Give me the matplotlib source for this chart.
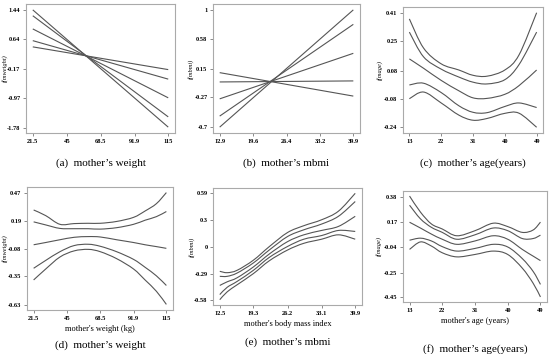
import matplotlib
matplotlib.use("Agg")
import matplotlib.pyplot as plt
from matplotlib.path import Path
from matplotlib.patches import PathPatch

W, H = 550, 354

# ---------------- data ----------------
# (a) linear effects of mother's weight (endpoints at 21.5 and 115)
a_x = [21.5, 115]
a_lines = [[1.44, -1.76], [1.28, -1.48], [0.92, -0.96], [0.60, -0.45], [0.43, -0.19]]
a_xticks = [21.5, 45, 68.5, 91.9, 115]
a_yticks = [-1.78, -0.97, -0.17, 0.64, 1.44]

# (b) linear effects of mbmi (endpoints at 12.9 and 39.9)
b_x = [12.9, 39.9]
b_lines = [[-0.70, 1.00], [-0.54, 0.79], [-0.29, 0.37], [-0.045, -0.03], [0.09, -0.25]]
b_xticks = [12.9, 19.6, 26.4, 33.2, 39.9]
b_yticks = [-0.7, -0.27, 0.15, 0.58, 1]

# (c) mother's age
c_x = [13, 17, 22, 27, 31, 35, 40, 44, 49]
c_lines = [
    [0.375, 0.21, 0.12, 0.085, 0.055, 0.05, 0.085, 0.17, 0.41],
    [0.30, 0.16, 0.09, 0.045, 0.016, 0.006, 0.03, 0.115, 0.30],
    [0.148, 0.095, 0.026, -0.033, -0.073, -0.076, -0.053, -0.004, 0.085],
    [0.0, 0.01, -0.043, -0.118, -0.155, -0.157, -0.122, -0.102, -0.128],
    [-0.078, -0.04, -0.102, -0.171, -0.20, -0.19, -0.161, -0.16, -0.24],
]
c_xticks = [13, 22, 31, 40, 49]
c_yticks = [-0.24, -0.08, 0.08, 0.25, 0.41]

# (d) mother's weight
d_x = [21.5, 30, 40, 50, 60, 68.5, 80, 91.9, 100, 108, 115]
d_lines = [
    [0.30, 0.245, 0.16, 0.167, 0.17, 0.17, 0.188, 0.228, 0.29, 0.362, 0.47],
    [0.184, 0.154, 0.12, 0.117, 0.117, 0.113, 0.127, 0.16, 0.20, 0.235, 0.285],
    [-0.04, -0.018, 0.009, 0.033, 0.04, 0.036, 0.009, -0.018, -0.04, -0.058, -0.075],
    [-0.27, -0.193, -0.108, -0.048, -0.035, -0.055, -0.108, -0.183, -0.26, -0.344, -0.438],
    [-0.384, -0.277, -0.16, -0.10, -0.085, -0.108, -0.176, -0.277, -0.384, -0.495, -0.623],
]
d_xticks = [21.5, 45, 68.5, 91.9, 115]
d_yticks = [-0.63, -0.35, -0.08, 0.19, 0.47]

# (e) mother's body mass index
e_x = [12.5, 14, 16, 19.3, 22.5, 26.2, 29.5, 33.1, 36.5, 39.9]
e_lines = [
    [-0.265, -0.28, -0.254, -0.143, 0.005, 0.16, 0.235, 0.30, 0.394, 0.59],
    [-0.32, -0.32, -0.284, -0.173, -0.032, 0.116, 0.19, 0.253, 0.338, 0.50],
    [-0.42, -0.38, -0.336, -0.217, -0.076, 0.06, 0.135, 0.183, 0.227, 0.338],
    [-0.52, -0.44, -0.376, -0.254, -0.113, 0.007, 0.087, 0.127, 0.183, 0.172],
    [-0.576, -0.49, -0.413, -0.29, -0.15, -0.032, 0.042, 0.087, 0.135, 0.087],
]
e_xticks = [12.5, 19.3, 26.2, 33.1, 39.9]
e_yticks = [-0.58, -0.29, 0, 0.3, 0.59]

# (f) mother's age (years)
f_x = [13, 16, 19, 22, 26, 31, 36, 40, 44, 47, 49]
f_lines = [
    [0.386, 0.253, 0.155, 0.113, 0.057, 0.099, 0.161, 0.133, 0.085, 0.105, 0.17],
    [0.31, 0.197, 0.127, 0.085, 0.028, 0.065, 0.121, 0.099, 0.034, 0.034, 0.062],
    [0.169, 0.121, 0.071, 0.028, -0.014, 0.014, 0.057, 0.028, -0.056, -0.112, -0.149],
    [0.02, 0.037, 0.014, -0.033, -0.07, -0.048, -0.014, -0.036, -0.132, -0.239, -0.346],
    [-0.056, 0.006, -0.028, -0.084, -0.118, -0.098, -0.07, -0.098, -0.211, -0.337, -0.45],
]
f_xticks = [13, 22, 31, 40, 49]
f_yticks = [-0.45, -0.25, -0.04, 0.17, 0.38]

panels = [
    dict(box=(26, 175, 4, 133), x=a_x, lines=a_lines, xt=a_xticks, yt=a_yticks,
         ylab="f(mweight)", ylx=4.5, xlab=None, cap="(a)  mother\u2019s weight", cy=163),
    dict(box=(213, 360, 4, 133), x=b_x, lines=b_lines, xt=b_xticks, yt=b_yticks,
         ylab="f(mbmi)", ylx=191, xlab=None, cap="(b)  mother\u2019s mbmi", cy=163),
    dict(box=(403, 543, 7, 133), x=c_x, lines=c_lines, xt=c_xticks, yt=c_yticks,
         ylab="f(mage)", ylx=380, xlab=None, cap="(c)  mother\u2019s age(years)", cy=163),
    dict(box=(27, 173, 187, 310), x=d_x, lines=d_lines, xt=d_xticks, yt=d_yticks,
         ylab="f(mweight)", ylx=4.5, xlab="mother's weight (kg)", cap="(d)  mother\u2019s weight", cy=345),
    dict(box=(213, 362, 188, 305), x=e_x, lines=e_lines, xt=e_xticks, yt=e_yticks,
         ylab="f(mbmi)", ylx=192, xlab="mother's body mass index", cap="(e)  mother\u2019s mbmi", cy=342),
    dict(box=(403, 547, 191, 302), x=f_x, lines=f_lines, xt=f_xticks, yt=f_yticks,
         ylab="f(mage)", ylx=379, xlab="mother's age (years)", cap="(f)  mother\u2019s age(years)", cy=349),
]

fig = plt.figure(figsize=(W / 100, H / 100), dpi=100)
serif = ["Liberation Serif", "DejaVu Serif"]


def smooth_path(xs, ys):
    """Catmull-Rom curve through the read points, drawn as cubic Bezier segments."""
    n = len(xs)
    verts = [(xs[0], ys[0])]
    codes = [Path.MOVETO]
    if n == 2:
        verts.append((xs[1], ys[1]))
        codes.append(Path.LINETO)
        return Path(verts, codes)
    for i in range(n - 1):
        x0, y0 = (xs[i - 1], ys[i - 1]) if i > 0 else (xs[i], ys[i])
        x1, y1 = xs[i], ys[i]
        x2, y2 = xs[i + 1], ys[i + 1]
        x3, y3 = (xs[i + 2], ys[i + 2]) if i + 2 < n else (x2, y2)
        c1 = (x1 + (x2 - x0) / 6.0, y1 + (y2 - y0) / 6.0)
        c2 = (x2 - (x3 - x1) / 6.0, y2 - (y3 - y1) / 6.0)
        verts += [c1, c2, (x2, y2)]
        codes += [Path.CURVE4] * 3
    return Path(verts, codes)


for p in panels:
    l, r, t, b = p["box"]
    ax = fig.add_axes([l / W, 1 - b / H, (r - l) / W, (b - t) / H])
    for ys in p["lines"]:
        # invisible line to register data limits, smooth patch for the visible curve
        ax.plot(p["x"], ys, alpha=0)
        ax.add_patch(PathPatch(smooth_path(p["x"], ys), facecolor="none",
                               edgecolor="#555555", lw=0.8))
    ax.set_xticks(p["xt"])
    ax.set_xticklabels([("%g" % v) for v in p["xt"]], fontfamily=serif,
                       fontsize=4.6, fontweight="bold")
    ax.set_yticks(p["yt"])
    ax.set_yticklabels([("%g" % v) for v in p["yt"]], fontfamily=serif,
                       fontsize=4.6, fontweight="bold")
    ax.margins(x=0.05, y=0.05)
    ax.tick_params(length=2, width=0.6, color="#777777", pad=2)
    for s in ax.spines.values():
        s.set_color("#aaaaaa")
        s.set_linewidth(0.8)
    ax.set_ylabel(p["ylab"], fontfamily=serif, fontstyle="italic", fontsize=4.6)
    ax.yaxis.set_label_coords((p["ylx"] - l) / (r - l), 0.5)
    ax.yaxis.label.set_va("center")
    if p["xlab"]:
        ax.set_xlabel(p["xlab"], fontfamily=serif, fontsize=6, labelpad=3)
    fig.text((l + r) / 2 / W, 1 - p["cy"] / H, p["cap"], ha="center", va="center",
             fontfamily=serif, fontsize=8)

fig.savefig("out.png", dpi=100)
